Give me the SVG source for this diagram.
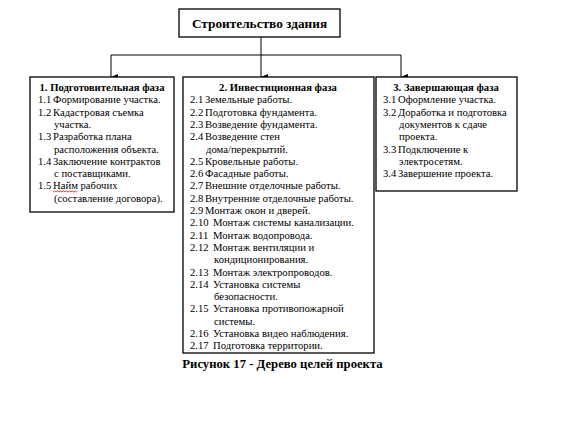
<svg xmlns="http://www.w3.org/2000/svg" width="561" height="429" viewBox="0 0 561 429" font-family="'Liberation Serif', 'DejaVu Serif', serif">
<defs>
<marker id="arr" markerWidth="6" markerHeight="7" refX="3" refY="7" orient="auto" markerUnits="userSpaceOnUse" viewBox="0 0 6 7">
<path d="M0,0 L6,0 L3,7 Z" fill="#000"/>
</marker>
</defs>
<style>
text{font-family:'Liberation Serif','DejaVu Serif',serif;fill:#000}
.t{font-size:10.67px}
.b{font-weight:bold}
.box{fill:#fff;stroke:#000;stroke-width:1.3}
.ln{fill:none;stroke:#000;stroke-width:1}
</style>
<rect width="561" height="429" fill="#fff"/>
<g id="connectors">
<line class="ln" x1="261" y1="37" x2="261" y2="77" marker-end="url(#arr)"/>
<line class="ln" x1="111" y1="55" x2="401" y2="55"/>
<line class="ln" x1="111" y1="55" x2="111" y2="77" marker-end="url(#arr)"/>
<line class="ln" x1="401" y1="55" x2="401" y2="77" marker-end="url(#arr)"/>
</g>
<g id="root">
<rect class="box" x="179" y="9" width="161" height="28"/>
<text x="259.5" y="27.5" text-anchor="middle" class="b" font-size="13.3">Строительство здания</text>
</g>
<g id="phase1">
<rect class="box" x="30" y="77" width="144" height="135"/>
<text x="102" y="91" text-anchor="middle" class="t b">1. Подготовительная фаза</text>
<g class="t">
<text x="38" y="103.3">1.1</text><text x="53" y="103.3">Формирование участка.</text>
<text x="38" y="115.6">1.2</text><text x="53" y="115.6">Кадастровая съемка</text>
<text x="54" y="127.9">участка.</text>
<text x="38" y="140.2">1.3</text><text x="53" y="140.2">Разработка плана</text>
<text x="54" y="152.5">расположения объекта.</text>
<text x="38" y="164.8">1.4</text><text x="53" y="164.8">Заключение контрактов</text>
<text x="54" y="177.1">с поставщиками.</text>
<text x="38" y="189.4">1.5</text><text x="53" y="189.4">Найм рабочих</text>
<text x="54" y="201.7">(составление договора).</text>
</g>
<path d="M53,192 l1.5,-1 1.5,1 1.5,-1 1.5,1 1.5,-1 1.5,1 1.5,-1 1.5,1 1.5,-1 1.5,1 1.5,-1 1.5,1 1.5,-1 1.5,1 1.5,-1 1.5,1" fill="none" stroke="#e00" stroke-width="0.8"/>
</g>
<g id="phase2">
<rect class="box" x="183" y="77" width="191" height="276"/>
<text x="278" y="91" text-anchor="middle" class="t b">2. Инвестиционная фаза</text>
<g class="t">
<text x="190" y="103.3">2.1</text><text x="205" y="103.3">Земельные работы.</text>
<text x="190" y="115.6">2.2</text><text x="205" y="115.6">Подготовка фундамента.</text>
<text x="190" y="127.9">2.3</text><text x="205" y="127.9">Возведение фундамента.</text>
<text x="190" y="140.2">2.4</text><text x="205" y="140.2">Возведение стен</text>
<text x="206" y="152.5">дома/перекрытий.</text>
<text x="190" y="164.8">2.5</text><text x="205" y="164.8">Кровельные работы.</text>
<text x="190" y="177.1">2.6</text><text x="205" y="177.1">Фасадные работы.</text>
<text x="190" y="189.4">2.7</text><text x="205" y="189.4">Внешние отделочные работы.</text>
<text x="190" y="201.7">2.8</text><text x="205" y="201.7">Внутренние отделочные работы.</text>
<text x="190" y="214">2.9</text><text x="205" y="214">Монтаж окон и дверей.</text>
<text x="190" y="226.3">2.10</text><text x="213" y="226.3">Монтаж системы канализации.</text>
<text x="190" y="238.6">2.11</text><text x="213" y="238.6">Монтаж водопровода.</text>
<text x="190" y="250.9">2.12</text><text x="213" y="250.9">Монтаж вентиляции и</text>
<text x="214" y="263.2">кондиционирования.</text>
<text x="190" y="275.5">2.13</text><text x="213" y="275.5">Монтаж электропроводов.</text>
<text x="190" y="287.8">2.14</text><text x="213" y="287.8">Установка системы</text>
<text x="214" y="300.1">безопасности.</text>
<text x="190" y="312.4">2.15</text><text x="213" y="312.4">Установка противопожарной</text>
<text x="214" y="324.7">системы.</text>
<text x="190" y="337">2.16</text><text x="213" y="337">Установка видео наблюдения.</text>
<text x="190" y="349.3">2.17</text><text x="213" y="349.3">Подготовка территории.</text>
</g>
</g>
<g id="phase3">
<rect class="box" x="376" y="77" width="141" height="114"/>
<text x="446" y="91" text-anchor="middle" class="t b">3. Завершающая фаза</text>
<g class="t">
<text x="383" y="103.3">3.1</text><text x="398" y="103.3">Оформление участка.</text>
<text x="383" y="115.6">3.2</text><text x="398" y="115.6">Доработка и подготовка</text>
<text x="399" y="127.9">документов к сдаче</text>
<text x="399" y="140.2">проекта.</text>
<text x="383" y="152.5">3.3</text><text x="398" y="152.5">Подключение к</text>
<text x="399" y="164.8">электросетям.</text>
<text x="383" y="177.1">3.4</text><text x="398" y="177.1">Завершение проекта.</text>
</g>
</g>
<text x="282.5" y="368" text-anchor="middle" class="b" font-size="12.7">Рисунок 17 - Дерево целей проекта</text>
</svg>
